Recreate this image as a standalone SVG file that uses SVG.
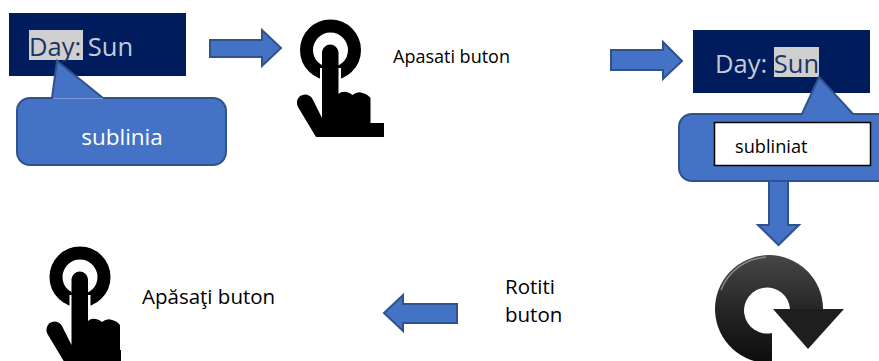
<svg xmlns="http://www.w3.org/2000/svg" width="879" height="361" viewBox="0 0 879 361">
<style>
text{font-family:"Open Sans","Noto Sans","Liberation Sans",sans-serif}
.blue{fill:#4472c4;stroke:#2f528f;stroke-width:2}
.panel{fill:#001c5c}
.hl{fill:#cfcfcf}
.day{font-size:25.500px;fill:#c5cbd8}
.dark{fill:#1c3468}
.lbl{fill:#000}
</style>
<defs>
<g id="hand">
<circle cx="330.500" cy="50" r="24" fill="none" stroke="#000" stroke-width="13"/>
<rect x="320" y="68" width="21" height="24" fill="#fff"/>
<path d="M322 52a8.300 8.300 0 0 1 16.500 0V94q3-3 8-2 4 1 6 3 5-4 10-2 5 1 8 5V123H384V137H316L298 107q-3-6 2-11 7-4 12 2L322 118Z" fill="#000"/>
</g>
<linearGradient id="rot" x1="0" y1="0" x2="0" y2="1"><stop offset="0" stop-color="#474747"/><stop offset="0.5" stop-color="#262626"/><stop offset="1" stop-color="#0c0c0c"/></linearGradient>
<clipPath id="clipHand2"><rect x="40" y="240" width="81" height="121"/></clipPath>
</defs>
<g id="connectors">
<path class="blue" d="M210 40H262V30L281 48 262 66V57H210Z"/>
<path class="blue" d="M611 50H663V42L682 61 663 79V70H611Z"/>
<path class="blue" d="M769 181H788V225H799L778.500 245 758 225H769Z"/>
<path class="blue" d="M457 304H403V295L384 313 403 331V323H457Z"/>
</g>
<g id="node-day1">
<rect class="panel" x="9" y="13" width="177" height="63"/>
<rect class="hl" x="29" y="30" width="54" height="30"/>
<text class="day" x="29" y="56"><tspan class="dark">Day:</tspan> Sun</text>
</g>
<g id="node-sublinia">
<path class="blue" d="M30 98H52L57 61 103 98H213a13 13 0 0 1 13 13V152a13 13 0 0 1-13 13H30a13 13 0 0 1-13-13V111a13 13 0 0 1 13-13Z"/>
<path d="M53 98.500H103" stroke="#7d9ad6" stroke-width="1"/>
<text x="122" y="145" font-size="22.500" fill="#fff" text-anchor="middle">sublinia</text>
</g>
<g id="node-hand1"><use href="#hand"/></g>
<g id="node-apasati"><text class="lbl" x="393" y="63" font-size="18">Apasati buton</text></g>
<g id="node-day2">
<rect class="panel" x="693" y="30" width="177" height="63"/>
<rect class="hl" x="774" y="47" width="45" height="30"/>
<text class="day" x="715" y="73">Day: <tspan class="dark">Sun</tspan></text>
</g>
<g id="node-subliniat">
<path class="blue" d="M692 114H802L819 77 853 114H880V181H692a13 13 0 0 1-13-13V127a13 13 0 0 1 13-13Z"/>
<rect x="714.500" y="122.500" width="156" height="43" fill="#fff" stroke="#000" stroke-width="1.500"/>
<text class="lbl" x="735" y="153" font-size="18.200">subliniat</text>
</g>
<g id="node-rotate">
<path d="M772 361V333A23 23 0 1 1 790 309H823A54 54 0 1 0 772 363Z" fill="url(#rot)"/>
<path d="M721 290A52 52 0 0 1 766 257" fill="none" stroke="#8a8a8a" stroke-width="1.500"/>
<path d="M773 309H844L808 349Z" fill="#1e1e1e"/>
</g>
<g id="node-rotiti"><text class="lbl" font-size="20.500" x="505" y="294">Rotiti</text><text class="lbl" font-size="20.500" x="505" y="322">buton</text></g>
<g id="node-hand2" clip-path="url(#clipHand2)"><use href="#hand" x="-250.500" y="227"/></g>
<g id="node-apasati2"><text class="lbl" x="142" y="304" font-size="20.500">Apăsaţi buton</text></g>
</svg>
